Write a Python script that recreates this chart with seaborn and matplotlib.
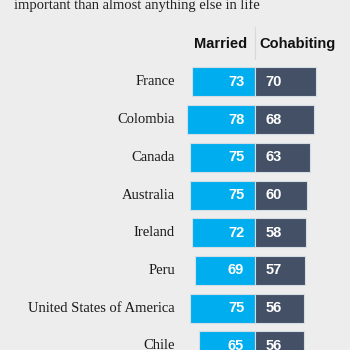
import numpy as np
import pandas as pd
import matplotlib
matplotlib.use('Agg')
import matplotlib.pyplot as plt
import seaborn as sns

# 数据
countries = ['France', 'Colombia', 'Canada', 'Australia', 'Ireland', 'Peru',
             'United States of America', 'Chile']
married = [73, 78, 75, 75, 72, 69, 75, 65]
cohabiting = [70, 68, 63, 60, 58, 57, 56, 56]

bg = '#ededed'
c_married = '#00aeef'
c_cohab = '#445066'

sns.set_theme(style='white')
plt.rcParams['font.family'] = ['DejaVu Sans']

df = pd.DataFrame({'country': countries,
                   'married': -np.array(married),
                   'cohabiting': cohabiting})

fig = plt.figure(figsize=(3.5, 3.5), dpi=100, facecolor=bg)
ax = fig.add_axes([0, 0, 1, 1])
ax.set_facecolor(bg)

sns.barplot(data=df, x='married', y='country', color=c_married, width=0.77,
            orient='h', edgecolor='#d5dde4', linewidth=0.8, saturation=1, ax=ax)
sns.barplot(data=df, x='cohabiting', y='country', color=c_cohab, width=0.77,
            orient='h', edgecolor='#d5dde4', linewidth=0.8, saturation=1, ax=ax)

# 像素对应：中心 x=255px, 0.87px/单位
ax.set_xlim(-293, 109)
ax.set_ylim(7.11, -2.175)
ax.axis('off')

serif = ['Liberation Serif', 'DejaVu Serif']
cond = dict(family=['Liberation Sans', 'DejaVu Sans'], weight='bold')

for i, (c, m, h) in enumerate(zip(countries, married, cohabiting)):
    ax.text(-92, i, c, ha='right', va='center', fontsize=10.5,
            family=serif, color='#1a1a1a')
    ax.text(-12.5, i, str(m), ha='right', va='center', fontsize=10.5,
            color='white', **cond)
    ax.text(11.5, i, str(h), ha='left', va='center', fontsize=10.5,
            color='white', **cond)

ax.text(-40, -1.0, 'Married', ha='center', va='center', fontsize=10.5,
        color='#111111', **cond)
ax.text(49, -1.0, 'Cohabiting', ha='center', va='center', fontsize=10.5,
        color='#111111', **cond)
ax.plot([0, 0], [-1.45, -0.62], color='#d8d8d8', lw=0.8)

fig.text(0.04, 0.985, 'important than almost anything else in life',
         ha='left', va='center', fontsize=10.5, family=serif, color='#222222')

fig.savefig('out.png', dpi=100, facecolor=bg)
